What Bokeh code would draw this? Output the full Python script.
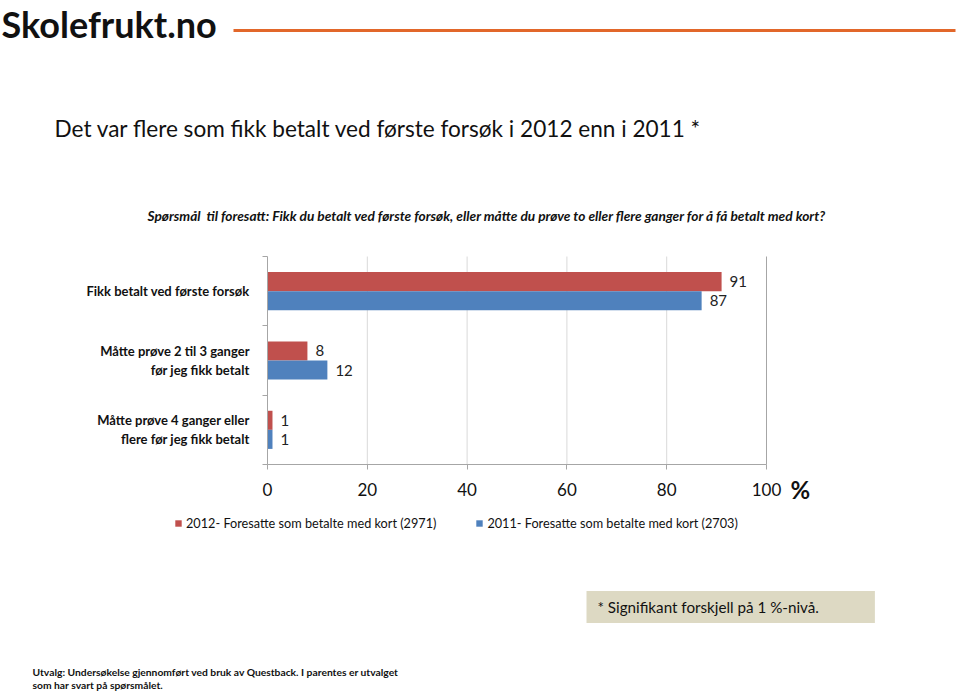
from bokeh.plotting import figure
from bokeh.models import (Range1d, FixedTicker, Label, LabelSet, ColumnDataSource,
                          Legend, LegendItem, Arrow, LinearAxis)
from bokeh.core.properties import value
from bokeh.embed import file_html
from bokeh.resources import INLINE

# ---- data ----
categories = ["Måtte prøve 4 ganger eller\nflere før jeg fikk betalt",
              "Måtte prøve 2 til 3 ganger\nfør jeg fikk betalt",
              "Fikk betalt ved første forsøk"]
series_2012 = [1, 8, 91]
series_2011 = [1, 12, 87]
name_2012 = "2012- Foresatte som betalte med kort (2971)"
name_2011 = "2011- Foresatte som betalte med kort (2703)"
xticks = [0, 20, 40, 60, 80, 100]

RED = "#C0504D"
BLUE = "#4F81BD"
FONT = "Lato"

W, H = 959, 691
FL, FR, FT, FB = 267, 766, 256, 464  # chart area edges in pixels
n = len(categories)

def px2x(px):
    return (px - FL) * 100.0 / (FR - FL)

def py2y(py):
    return (n - 0.5) - (py - FT) * n / (FB - FT)

p = figure(width=W, height=H, output_backend="svg", toolbar_location=None,
           x_range=Range1d(px2x(0), px2x(W)), y_range=Range1d(py2y(H), py2y(0)),
           x_axis_location=None, y_axis_location=None,
           min_border=0, min_border_left=0, min_border_right=0,
           min_border_top=0, min_border_bottom=0)
p.outline_line_color = None
p.background_fill_color = "white"
p.border_fill_color = "white"
p.xgrid.visible = False
p.ygrid.visible = False

idx = list(range(n))
bh = 0.275
src = ColumnDataSource(dict(
    y12=[i + bh / 2 for i in idx], y11=[i - bh / 2 for i in idx],
    v12=series_2012, v11=series_2011,
    t12=[str(v) for v in series_2012], t11=[str(v) for v in series_2011]))

# vertical gridlines limited to the category area
gx = xticks[1:]
gcol = ["#D9D9D9"] * (len(gx) - 1) + ["#A6A6A6"]
p.segment(x0=gx, x1=gx, y0=[-0.5] * len(gx), y1=[n - 0.5] * len(gx), line_color=gcol, line_width=1)

r12 = p.hbar(y="y12", right="v12", left=0, height=bh, source=src, color=RED, line_color=None)
r11 = p.hbar(y="y11", right="v11", left=0, height=bh, source=src, color=BLUE, line_color=None)

for xcol, ycol, tcol in (("v12", "y12", "t12"), ("v11", "y11", "t11")):
    p.add_layout(LabelSet(x=xcol, y=ycol, text=tcol, source=src, x_offset=8,
                          text_baseline="middle", text_font=value(FONT),
                          text_font_size="15px", text_color="#222222"))

# x axis
xaxis = LinearAxis(fixed_location=-0.5, bounds=(xticks[0], xticks[-1]),
                   ticker=FixedTicker(ticks=xticks))
xaxis.major_label_text_font = FONT
xaxis.major_label_text_font_size = "17px"
xaxis.major_label_text_color = "#111111"
xaxis.major_label_standoff = 13
xaxis.axis_line_color = "#A6A6A6"
xaxis.major_tick_line_color = "#A6A6A6"
xaxis.major_tick_out = 5
xaxis.major_tick_in = 0
xaxis.minor_tick_line_color = None
p.add_layout(xaxis, "below")

# y axis
yaxis = LinearAxis(fixed_location=0, bounds=(-0.5, n - 0.5),
                   ticker=FixedTicker(ticks=idx, minor_ticks=[i - 0.5 for i in range(n + 1)]))
yaxis.major_label_overrides = {i: c for i, c in zip(idx, categories)}
yaxis.major_label_text_font = FONT
yaxis.major_label_text_font_style = "bold"
yaxis.major_label_text_font_size = "13px"
yaxis.major_label_text_color = "#111111"
yaxis.major_label_text_align = "center"
yaxis.major_label_standoff = 13
yaxis.major_tick_out = 0
yaxis.major_tick_in = 0
yaxis.minor_tick_out = 5
yaxis.minor_tick_in = 0
yaxis.axis_line_color = "#A6A6A6"
yaxis.minor_tick_line_color = "#A6A6A6"
p.add_layout(yaxis, "left")

# percent sign
p.add_layout(Label(x=px2x(790), y=py2y(489), text="%", text_font=FONT, text_font_style="bold",
                   text_font_size="24px", text_baseline="middle", text_color="#111111"))

# legend
legend = Legend(items=[LegendItem(label=name_2012, renderers=[r12]),
                       LegendItem(label=name_2011, renderers=[r11])],
                orientation="horizontal", location=(174, H - 531),
                glyph_width=8, glyph_height=8, label_height=14, label_standoff=4,
                spacing=39, padding=0, margin=0, border_line_color=None,
                background_fill_alpha=0,
                label_text_font=FONT, label_text_font_size="12.7px", label_text_color="#111111")
p.add_layout(legend, "center")

# logo and line
p.add_layout(Label(x=px2x(1), y=py2y(23), text="Skolefrukt.no", text_font=FONT,
                   text_font_style="bold", text_font_size="36px", text_baseline="middle",
                   text_color="#111111"))
p.add_layout(Arrow(end=None, x_start=px2x(233), y_start=py2y(30), x_end=px2x(955), y_end=py2y(30),
                   line_color="#E2672A", line_width=3))

# titles
p.add_layout(Label(x=px2x(54), y=py2y(128), text="Det var flere som fikk betalt ved første forsøk i 2012 enn i 2011 *",
                   text_font=FONT, text_font_size="22.6px", text_baseline="middle", text_color="#111111"))
p.add_layout(Label(x=px2x(147), y=py2y(215),
                   text="Spørsmål\u00a0 til foresatt: Fikk du betalt ved første forsøk, eller måtte du prøve to eller flere ganger for å få betalt med kort?",
                   text_font=FONT, text_font_style="bold italic", text_font_size="13.7px",
                   text_baseline="middle", text_color="#111111"))

# footnote box
p.add_layout(Label(x=px2x(586), y=py2y(606.5), text="* Signifikant forskjell på 1 %-nivå.",
                   text_font=FONT, text_font_size="15.2px", text_baseline="middle", text_color="#111111",
                   background_fill_color="#DDD9C3",
                   padding=dict(left=11, right=56, top=7, bottom=7)))

# bottom note
p.add_layout(Label(x=px2x(32), y=py2y(671), text="Utvalg: Undersøkelse gjennomført ved bruk av Questback. I parentes er utvalget",
                   text_font=FONT, text_font_style="bold", text_font_size="10.3px",
                   text_baseline="middle", text_color="#111111"))
p.add_layout(Label(x=px2x(32), y=py2y(684), text="som har svart på spørsmålet.",
                   text_font=FONT, text_font_style="bold", text_font_size="10.3px",
                   text_baseline="middle", text_color="#111111"))

open("out.html", "w").write(file_html(p, INLINE))
